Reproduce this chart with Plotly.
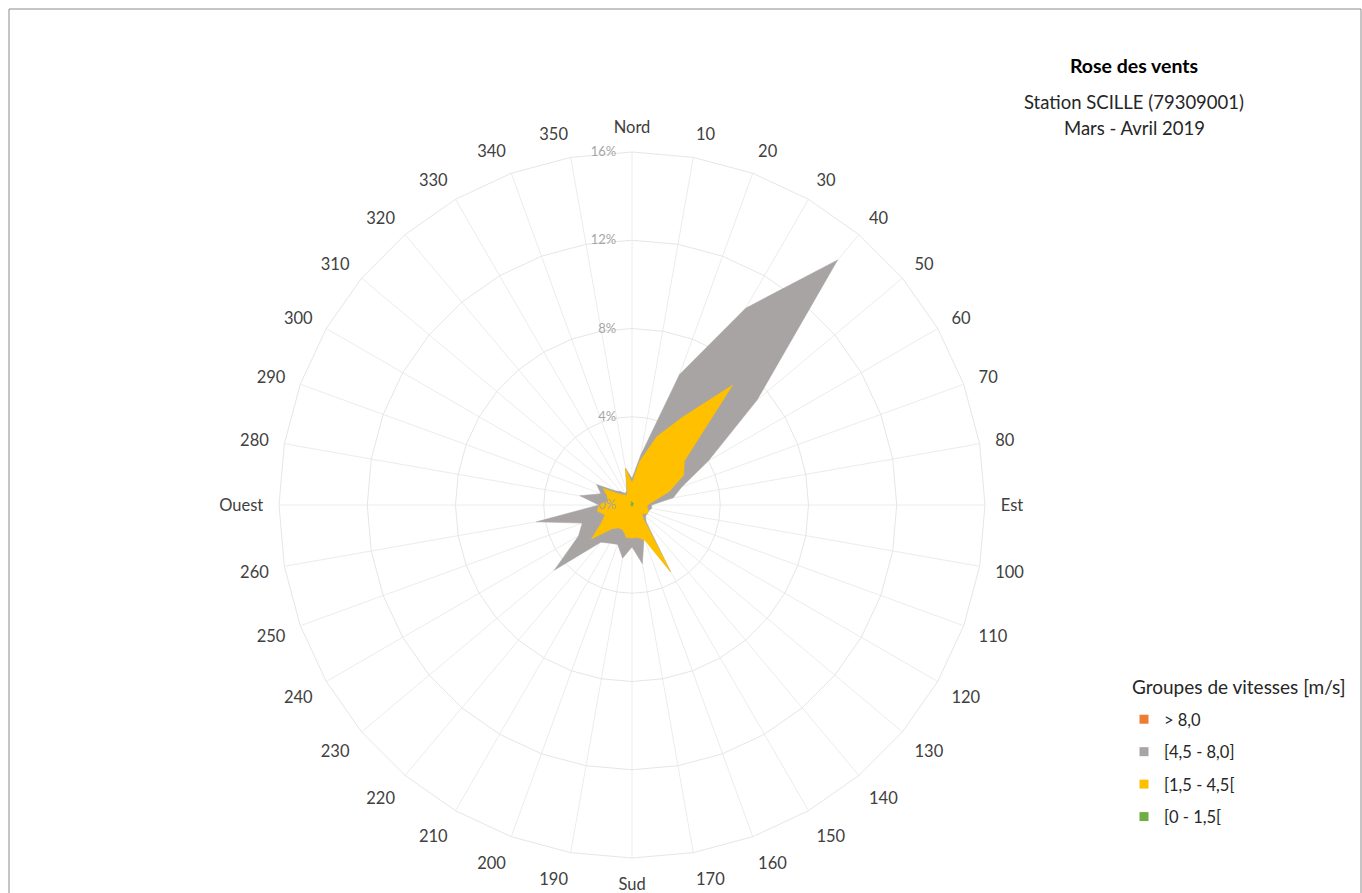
import plotly.graph_objects as go

# Directions (degrees) and their axis labels
directions = list(range(0, 360, 10))
dir_labels = ["Nord", "10", "20", "30", "40", "50", "60", "70", "80",
              "Est", "100", "110", "120", "130", "140", "150", "160", "170",
              "Sud", "190", "200", "210", "220", "230", "240", "250", "260",
              "Ouest", "280", "290", "300", "310", "320", "330", "340", "350"]

# Frequencies (%) per direction, per speed group (cumulative as plotted)
sup_8_0 = [0.0] * 36
g_4_5_8_0 = [1.2, 2.3, 6.3, 10.3, 14.5, 7.4, 4.0, 2.4, 1.9,
             0.9, 0.9, 0.8, 0.8, 0.8, 1.0, 3.5, 1.6, 2.7,
             1.9, 2.45, 1.9, 2.0, 2.2, 4.6, 2.8, 2.4, 4.4,
             1.5, 2.4, 1.5, 1.85, 1.0, 0.8, 0.6, 0.7, 1.7]
g_1_5_4_5 = [1.0, 2.0, 3.3, 4.6, 7.1, 3.1, 2.7, 1.8, 1.0,
             0.7, 0.7, 0.8, 0.8, 0.6, 0.8, 3.5, 1.7, 1.5,
             1.5, 1.5, 1.2, 1.2, 1.4, 2.4, 1.6, 1.3, 1.6,
             1.5, 1.1, 1.2, 1.5, 0.8, 0.6, 0.5, 0.6, 1.7]
g_0_1_5 = [0.15, 0.1, 0.1, 0.1, 0.1, 0.05, 0.05, 0.05, 0.05,
           0.05, 0.05, 0.05, 0.05, 0.05, 0.05, 0.05, 0.05, 0.05,
           0.05, 0.05, 0.05, 0.05, 0.05, 0.05, 0.05, 0.05, 0.05,
           0.05, 0.05, 0.05, 0.05, 0.05, 0.05, 0.05, 0.1, 0.15]

series_names = ["> 8,0", "[4,5 - 8,0]", "[1,5 - 4,5[", "[0 - 1,5["]
series_values = [sup_8_0, g_4_5_8_0, g_1_5_4_5, g_0_1_5]
series_colors = ["#ED7D31", "#A8A4A4", "#FFC000", "#70AD47"]

radial_ticks = [0, 4, 8, 12, 16]
radial_labels = ["0%", "4%", "8%", "12%", "16%"]

FONT = "Lato, 'Open Sans', sans-serif"
NB = "\u00a0"

# pad labels on the right so that they sit left of the north spoke
radial_text = [lab + NB * 4 for lab in radial_labels]

fig = go.Figure()
for name, vals, col in zip(series_names, series_values, series_colors):
    fig.add_trace(go.Scatterpolar(
        r=vals + [vals[0]], theta=dir_labels + [dir_labels[0]],
        mode="lines", fill="toself", fillcolor=col,
        line=dict(color=col, width=0.5), name=name, showlegend=False,
        hoverinfo="skip"))

# legend entries (square markers)
for i, (name, col) in enumerate(zip(series_names, series_colors)):
    fig.add_trace(go.Scatterpolar(
        r=[None], theta=[dir_labels[0]], mode="markers", name=name,
        marker=dict(symbol="square", size=9, color=col),
        legendgroup="g%d" % i, showlegend=True))

fig.update_layout(
    width=1362, height=893,
    margin=dict(l=0, r=0, t=0, b=0),
    paper_bgcolor="white",
    font=dict(family=FONT, color="#404040"),
    polar=dict(
        domain=dict(x=[279 / 1362, 985 / 1362], y=[35 / 893, 741 / 893]),
        bgcolor="white",
        gridshape="linear",
        angularaxis=dict(
            type="category", categoryarray=dir_labels,
            direction="clockwise", rotation=90,
            tickfont=dict(size=16.5, color="#404040", family=FONT),
            ticks="outside", ticklen=12, tickcolor="rgba(0,0,0,0)",
            showline=True, linecolor="#e6e6e6", linewidth=1,
            gridcolor="#ececec", gridwidth=1),
        radialaxis=dict(
            range=[0, 16], tickvals=radial_ticks, ticktext=radial_text,
            angle=90, tickangle=90, side="counterclockwise",
            tickfont=dict(size=13, color="#a6a6a6", family=FONT),
            showline=False, ticks="", layer="above traces",
            gridcolor="#e6e6e6", gridwidth=1),
    ),
    title=dict(text="<b>Rose des vents</b>", x=1134 / 1362, xanchor="center",
               y=1 - 66 / 893, yanchor="middle", xref="paper", yref="paper",
               font=dict(size=19.5, color="#000000", family=FONT)),
    legend=dict(
        x=1124 / 1362, xanchor="left", y=1 - 702 / 893, yanchor="top",
        font=dict(size=16.5, color="#262626", family=FONT),
        tracegroupgap=8, bgcolor="rgba(0,0,0,0)", itemwidth=30),
    annotations=[
        dict(text="Station SCILLE (79309001)", x=1134 / 1362, y=1 - 102 / 893,
             xref="paper", yref="paper", showarrow=False, xanchor="center",
             yanchor="middle", font=dict(size=18.5, color="#262626", family=FONT)),
        dict(text="Mars - Avril 2019", x=1134 / 1362, y=1 - 128 / 893,
             xref="paper", yref="paper", showarrow=False, xanchor="center",
             yanchor="middle", font=dict(size=18.5, color="#262626", family=FONT)),
        dict(text="Groupes de vitesses [m/s]", x=1130 / 1362, y=1 - 686 / 893,
             xref="paper", yref="paper", showarrow=False, xanchor="left",
             yanchor="middle", font=dict(size=19, color="#262626", family=FONT)),
    ],
    shapes=[dict(type="rect", xref="paper", yref="paper",
                 x0=9 / 1362, x1=1361 / 1362, y0=-0.05, y1=1 - 9 / 893,
                 line=dict(color="#8c8c8c", width=1), layer="below")],
)

fig.write_html("out.html", config={"displayModeBar": False},
               post_script="document.body.style.margin='0';document.body.style.overflow='hidden';")
